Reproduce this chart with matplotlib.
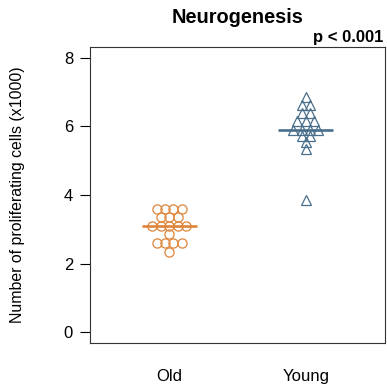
"""Beeswarm of proliferating cell counts, old vs young."""

import numpy as np
import matplotlib
matplotlib.use('Agg')
import matplotlib.pyplot as plt

GROUPS = ['Old', 'Young']
OLD = [2.35, 2.6, 2.6, 2.6, 2.6, 2.85, 3.1, 3.1, 3.1, 3.1, 3.1,
       3.35, 3.35, 3.35, 3.6, 3.6, 3.6, 3.6]
YOUNG = [3.85, 5.35, 5.55, 5.72, 5.72, 5.9, 5.9, 5.9, 5.9, 6.15, 6.15,
         6.15, 6.4, 6.4, 6.62, 6.62, 6.85]
COLORS = ['#DF8539', '#4A6F8C']
MARKERS = ['o', '^']
YTICKS = [0, 2, 4, 6, 8]

plt.rcParams['font.family'] = ['Liberation Sans', 'DejaVu Sans']


def center_swarm(values, step):
    """Offsets like beeswarm(method='center'): equal values share a row."""
    values = np.asarray(values)
    offsets = np.zeros(len(values))
    for val in np.unique(values):
        idx = np.where(values == val)[0]
        n = len(idx)
        offsets[idx] = (np.arange(n) - (n - 1) / 2.0) * step
    return offsets


def make_plot():
    fig = plt.figure(figsize=(3.87, 3.85), dpi=100)
    ax = fig.add_axes([90 / 387, 42 / 385, 295 / 387, 296 / 385])

    step = 0.062
    for pos, (data, color, marker) in enumerate(
            zip([OLD, YOUNG], COLORS, MARKERS), start=1):
        xs = pos + center_swarm(data, step)
        ax.plot(xs, data, linestyle='none', marker=marker, markersize=6.6,
                markerfacecolor='none', markeredgecolor=color,
                markeredgewidth=0.9)
        med = np.median(data)
        ax.plot([pos - 0.2, pos + 0.2], [med, med], color=color, lw=1.9,
                solid_capstyle='butt')

    ax.set_xlim(0.42, 2.58)
    ax.set_ylim(-0.32, 8.32)
    ax.set_xticks([1, 2])
    ax.set_xticklabels(GROUPS, fontsize=12)
    ax.tick_params(axis='x', length=0, pad=19)
    ax.set_yticks(YTICKS)
    ax.tick_params(axis='y', length=7.2, width=0.8, pad=5, labelsize=12)
    for spine in ax.spines.values():
        spine.set_linewidth(0.8)
        spine.set_color('#333333')

    ax.set_ylabel('Number of proliferating cells (x1000)', fontsize=11.4,
                  labelpad=28)
    ax.set_title('Neurogenesis', fontsize=14.4, fontweight='bold', pad=17)
    ax.text(0.995, 1.008, 'p < 0.001', transform=ax.transAxes, ha='right',
            va='bottom', fontsize=12, fontweight='bold')

    fig.savefig('out.png', dpi=100)


if __name__ == '__main__':
    make_plot()
